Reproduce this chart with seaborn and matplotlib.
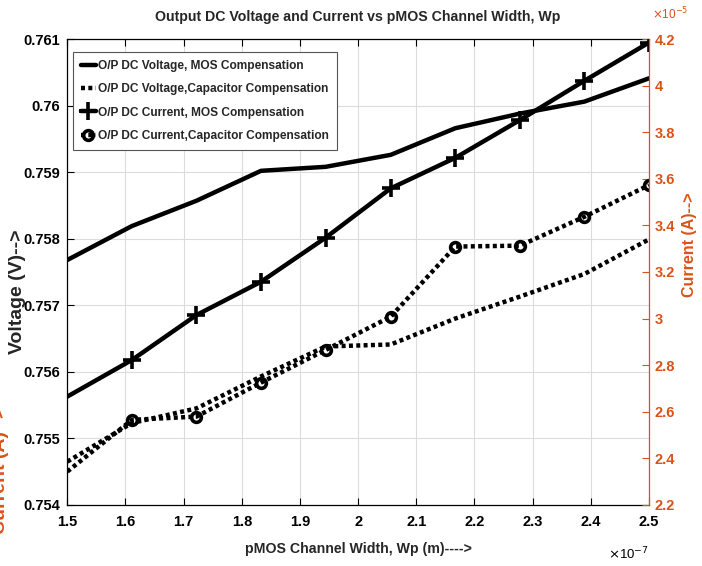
import matplotlib
matplotlib.use("Agg")
import matplotlib.pyplot as plt
import seaborn as sns
from matplotlib.font_manager import FontProperties
from matplotlib.ticker import FixedLocator, FuncFormatter
import pandas as pd

# ---------------- data ----------------
wp = [1.5, 1.611, 1.722, 1.833, 1.944, 2.056, 2.167, 2.278, 2.389, 2.5]  # x 1e-7 m
v_mos = [0.75768, 0.75819, 0.75857, 0.75902, 0.75908, 0.75926, 0.75966, 0.75988, 0.76006, 0.76041]
v_cap = [0.75465, 0.75523, 0.75545, 0.75593, 0.75638, 0.75641, 0.75680, 0.75713, 0.75747, 0.75799]
i_mos = [2.665, 2.822, 3.015, 3.158, 3.347, 3.559, 3.690, 3.852, 4.021, 4.185]  # x 1e-5 A
i_cap = [2.343, 2.565, 2.579, 2.725, 2.865, 3.008, 3.309, 3.313, 3.437, 3.573]

labels = ["O/P DC Voltage, MOS Compensation",
          "O/P DC Voltage,Capacitor Compensation",
          "O/P DC Current, MOS Compensation",
          "O/P DC Current,Capacitor Compensation"]
title = "Output DC Voltage and Current vs pMOS Channel Width, Wp"
xlabel = "pMOS Channel Width, Wp (m)---->"
ylabel_l = "Voltage (V)-->"
ylabel_r = "Current (A)-->"
xticks = [1.5, 1.6, 1.7, 1.8, 1.9, 2.0, 2.1, 2.2, 2.3, 2.4, 2.5]
yticks_l = [0.754, 0.755, 0.756, 0.757, 0.758, 0.759, 0.760, 0.761]
yticks_r = [2.2, 2.4, 2.6, 2.8, 3.0, 3.2, 3.4, 3.6, 3.8, 4.0, 4.2]

df = pd.DataFrame({"wp": wp, "v_mos": v_mos, "v_cap": v_cap, "i_mos": i_mos, "i_cap": i_cap})

# ---------------- style ----------------
sns.set_theme(style="white")
plt.rcParams["font.family"] = ["Liberation Sans", "DejaVu Sans"]
ORANGE = "#D95319"


def NF(size):
    return FontProperties(family=["Liberation Sans", "DejaVu Sans"], weight="bold", size=size)


fig = plt.figure(figsize=(7.02, 5.66), dpi=100)
ax = fig.add_axes([0.0959, 0.108, 0.8286, 0.823])
ax2 = ax.twinx()

dot = (0, (0.9, 0.75))
sns.lineplot(data=df, x="wp", y="v_mos", ax=ax, color="black", lw=3.2, label=labels[0], legend=False)
sns.lineplot(data=df, x="wp", y="v_cap", ax=ax, color="black", lw=3.2, linestyle=dot, label=labels[1], legend=False)
sns.lineplot(data=df, x="wp", y="i_mos", ax=ax2, color="black", lw=3.2, marker="+", markersize=13,
             markeredgewidth=2.6, markeredgecolor="black", markevery=list(range(1, len(wp))),
             label=labels[2], legend=False)
sns.lineplot(data=df, x="wp", y="i_cap", ax=ax2, color="black", lw=3.2, linestyle=dot, marker="o",
             markersize=7, markeredgewidth=2.6, markerfacecolor="none", markeredgecolor="black",
             markevery=list(range(1, len(wp))), label=labels[3], legend=False)
for ln in ax.lines + ax2.lines:
    ln.set_dash_capstyle("butt")

# axes limits / ticks
ax.set_xlim(1.5, 2.5)
ax.set_ylim(0.754, 0.761)
ax2.set_ylim(2.2, 4.2)
ax.xaxis.set_major_locator(FixedLocator(xticks))
ax.yaxis.set_major_locator(FixedLocator(yticks_l))
ax2.yaxis.set_major_locator(FixedLocator(yticks_r))
ax.xaxis.set_major_formatter(FuncFormatter(lambda v, p: f"{round(v, 1):g}"))
ax.yaxis.set_major_formatter(FuncFormatter(lambda v, p: f"{round(v, 3):g}"))
ax2.yaxis.set_major_formatter(FuncFormatter(lambda v, p: f"{round(v, 1):g}"))

ax.grid(True, color="#dcdcdc", lw=0.8)
ax.set_axisbelow(True)
ax.tick_params(axis="both", direction="in", length=5, width=0.8, colors="black",
               top=True, left=True, bottom=True, right=False)
ax.tick_params(axis="x", pad=7)
ax.tick_params(axis="y", pad=5)
ax2.tick_params(axis="y", direction="in", length=5, width=0.8, colors=ORANGE, pad=4)
tick_size = 10.5
for lab in ax.get_xticklabels() + ax.get_yticklabels() + ax2.get_yticklabels():
    lab.set_fontproperties(NF(tick_size))

for s in ["left", "top", "bottom"]:
    ax.spines[s].set_color("black")
    ax.spines[s].set_linewidth(0.9)
ax2.spines["right"].set_color(ORANGE)
ax2.spines["right"].set_linewidth(0.9)
for s in ["left", "top", "bottom"]:
    ax2.spines[s].set_visible(False)
ax.spines["right"].set_visible(False)

ax.set_title(title, fontproperties=NF(10.2), pad=13)
ax.set_xlabel(xlabel, fontproperties=NF(10.2), labelpad=10)
ax.set_ylabel(ylabel_l, fontsize=14, fontweight="bold", family=["Liberation Sans", "DejaVu Sans"])
ax.yaxis.set_label_coords(-0.071, 0.457)
ax2.set_ylabel(ylabel_r, fontsize=11.5, fontweight="bold", color=ORANGE,
               family=["Liberation Sans", "DejaVu Sans"])
ax2.yaxis.set_label_coords(1.056, 0.558)

# exponent annotations (MATLAB style)
ax.text(1.0, -0.088, r"$\times$10$^{-7}$", transform=ax.transAxes, ha="right", va="top",
        fontsize=9.5, color="black")
ax2.text(1.006, 1.035, r"$\times$10$^{-5}$", transform=ax2.transAxes, ha="left", va="bottom",
         fontsize=8.5, color=ORANGE)

# cut-off duplicate label at the very left edge of the image
fig.text(9 / 702, 1 - 470 / 566, ylabel_r, rotation=90, ha="right", va="center", fontsize=14,
         fontweight="bold", color=ORANGE, family=["Liberation Sans", "DejaVu Sans"])

# legend
h1, l1 = ax.get_legend_handles_labels()
h2, l2 = ax2.get_legend_handles_labels()
leg = ax2.legend(h1 + h2, l1 + l2, loc="upper left", bbox_to_anchor=(0.0098, 0.972),
                 borderaxespad=0, frameon=True, fancybox=False, framealpha=1,
                 edgecolor="#555555", handlelength=1.25, handletextpad=0.2,
                 labelspacing=0.95, borderpad=0.65, prop=NF(8.6))
leg.get_frame().set_linewidth(0.8)

fig.savefig("out.png", dpi=100)
